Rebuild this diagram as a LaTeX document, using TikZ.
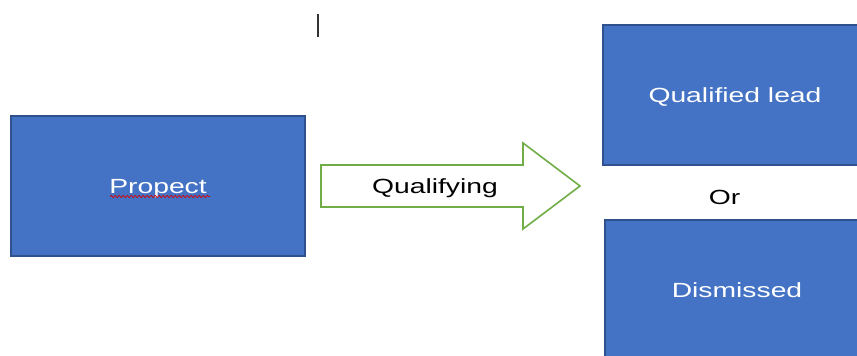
\documentclass[tikz,border=0pt]{standalone}
\usepackage{fontspec}
\usepackage{graphicx}
\setmainfont{Liberation Sans}
\usetikzlibrary{positioning,decorations.pathmorphing}

\definecolor{boxblue}{HTML}{4472C4}
\definecolor{boxedge}{HTML}{2F528F}
\definecolor{arrowgreen}{HTML}{70AD47}

% slide text comes out wide, so stretch it sideways
\newcommand{\widetext}[1]{\scalebox{1.38}[1]{#1}}

\tikzset{
    stagebox/.style={rectangle, fill=boxblue, draw=boxedge, line width=1.4pt,
        minimum width=294pt, minimum height=140pt, text=white, inner sep=0pt,
        font=\fontsize{20.5}{24}\selectfont, text height=14.5pt, text depth=0pt},
    plainlabel/.style={font=\fontsize{20.5}{24}\selectfont, text=black, inner sep=0pt,
        text height=14.5pt, text depth=0pt}
}

\begin{document}
\begin{tikzpicture}[x=1pt, y=1pt]
    \clip (0,0) rectangle (857,356);
    \fill[white] (0,0) rectangle (857,356);

    % Left box
    \node[stagebox] (prospect) at (158,170) {\widetext{Propect}};
    % spell-check squiggle under the word
    \draw[red!85!black, line width=0.7pt, decorate,
          decoration={snake, amplitude=1.2pt, segment length=4pt}]
        (110,159.5) -- (210,159.5);

    % Hollow arrow
    \draw[draw=arrowgreen, fill=white, line width=1.6pt, line join=miter]
        (321,191) -- (523,191) -- (523,213) -- (580,170)
        -- (523,127) -- (523,149) -- (321,149) -- cycle;
    \node[plainlabel] (qualifying) at (435,170) {\widetext{Qualifying}};

    % Right boxes
    \node[stagebox, minimum width=264pt] (qualified) at (735,261) {\widetext{Qualified lead}};
    \node[plainlabel] (or) at (724.5,159) {\widetext{Or}};
    \node[stagebox, minimum width=264pt] (dismissed) at (737,66) {\widetext{Dismissed}};

    % Text cursor
    \draw[black!80, line width=1.3pt] (318,342) -- (318,319);
\end{tikzpicture}
\end{document}
